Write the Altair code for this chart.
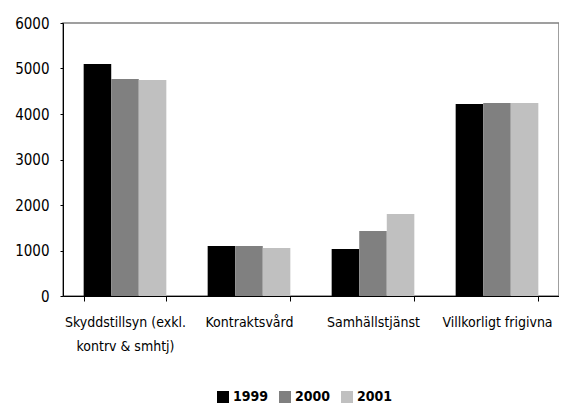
import altair as alt
import pandas as pd

categories = ["Skyddstillsyn (exkl. kontrv & smhtj)", "Kontraktsvård", "Samhällstjänst", "Villkorligt frigivna"]
years = ["1999", "2000", "2001"]
v1999 = [5100, 1100, 1035, 4220]
v2000 = [4770, 1100, 1430, 4240]
v2001 = [4745, 1055, 1800, 4240]
colors = ["#000000", "#808080", "#c0c0c0"]

rows = []
for i, c in enumerate(categories):
    for y, vals in zip(years, [v1999, v2000, v2001]):
        rows.append({"Kategori": c, "År": y, "Antal": vals[i]})
df = pd.DataFrame(rows)

FONT = "DejaVu Sans Condensed"

chart = alt.Chart(df).mark_bar().encode(
    x=alt.X("Kategori:N", sort=categories, title=None,
            scale=alt.Scale(paddingInner=1/3, paddingOuter=1/6),
            axis=alt.Axis(labelAngle=0, tickBand="extent", tickSize=5, labelPadding=14,
                          domainColor="black", tickColor="black", labelColor="black",
                          labelFont=FONT, labelFontSize=14, labelLimit=200,
                          labelExpr="datum.label == 'Skyddstillsyn (exkl. kontrv & smhtj)' ? ['Skyddstillsyn (exkl.', 'kontrv & smhtj)'] : datum.label",
                          labelLineHeight=24)),
    xOffset=alt.XOffset("År:N", sort=years, scale=alt.Scale(paddingInner=0, paddingOuter=0)),
    y=alt.Y("Antal:Q", title=None, scale=alt.Scale(domain=[0, 6000], nice=False),
            axis=alt.Axis(values=[0, 1000, 2000, 3000, 4000, 5000, 6000], grid=False, format="d",
                          tickSize=3, labelPadding=11, domainColor="black", tickColor="black",
                          labelColor="black", labelFont=FONT, labelFontSize=15)),
    color=alt.Color("År:N", sort=years, scale=alt.Scale(domain=years, range=colors),
                    legend=alt.Legend(title=None, orient="none", direction="horizontal",
                                      legendX=153, legendY=367, symbolType="square",
                                      symbolSize=144, symbolStrokeWidth=0, symbolOpacity=1,
                                      labelFont=FONT, labelFontSize=14, labelFontWeight="bold",
                                      labelColor="black", labelOffset=3, columnPadding=9)),
).properties(
    width=496, height=273,
    autosize=alt.AutoSizeParams(type="none"),
    padding={"left": 55, "top": 15, "right": 0, "bottom": 107},
).configure_view(stroke="#808080", strokeWidth=1.5)

chart.save("out.html", embed_options={"renderer": "svg", "actions": False})
